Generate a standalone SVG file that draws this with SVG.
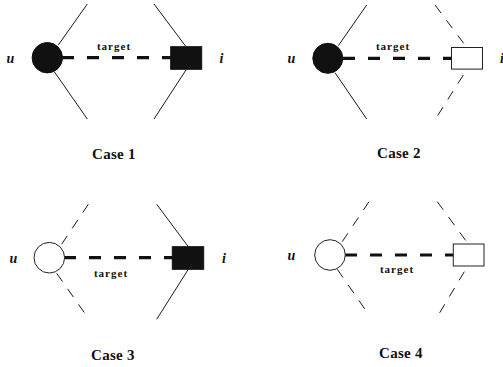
<svg xmlns="http://www.w3.org/2000/svg" width="503" height="367" viewBox="0 0 503 367">
  <style>
    .bg { fill: #ffffff; }
    .solid { stroke: #1a1a1a; stroke-width: 1; fill: none; }
    .thin-dash { stroke: #1a1a1a; stroke-width: 1; fill: none; stroke-dasharray: 10 9; }
    .target { stroke: #111111; stroke-width: 3.2; fill: none; stroke-dasharray: 12 13; }
    .full { fill: #111111; stroke: #111111; stroke-width: 1; }
    .empty { fill: #ffffff; stroke: #222222; stroke-width: 1; }
    .lbl { font-family: "Liberation Serif", "Times New Roman", serif; font-weight: bold; fill: #111111; }
    .var { font-size: 14px; font-style: italic; }
    .edge { font-size: 11px; letter-spacing: 1px; text-anchor: middle; }
    .cap { font-size: 15px; letter-spacing: 0.3px; text-anchor: middle; }
  </style>
  <rect class="bg" x="0" y="0" width="503" height="367"/>

  <g id="connectors">
    <!-- case 1 -->
    <line class="solid" x1="87.3" y1="4" x2="58.3" y2="45"/>
    <line class="solid" x1="54.3" y1="71.7" x2="87.3" y2="119"/>
    <line class="solid" x1="154" y1="4" x2="186" y2="46.7"/>
    <line class="solid" x1="186" y1="70" x2="154" y2="119"/>
    <line class="target" x1="62" y1="57.7" x2="171" y2="57.7"/>
    <!-- case 2 -->
    <line class="solid" x1="366.7" y1="5" x2="338.3" y2="45.7"/>
    <line class="solid" x1="335" y1="72.7" x2="366.7" y2="119"/>
    <line class="thin-dash" x1="435" y1="5" x2="467" y2="47.7"/>
    <line class="thin-dash" x1="463.3" y1="75" x2="435.5" y2="119"/>
    <line class="target" x1="343" y1="58.3" x2="452" y2="58.3"/>
    <!-- case 3 -->
    <line class="thin-dash" x1="88.3" y1="204.3" x2="60" y2="246.7"/>
    <line class="thin-dash" x1="56.7" y1="273.3" x2="86" y2="315"/>
    <line class="solid" x1="156.7" y1="204.3" x2="188.3" y2="246.7"/>
    <line class="solid" x1="188.3" y1="269.3" x2="156.7" y2="319.3"/>
    <line class="target" x1="64" y1="257.7" x2="173" y2="257.7"/>
    <!-- case 4 -->
    <line class="thin-dash" x1="369" y1="201.7" x2="340.7" y2="244"/>
    <line class="thin-dash" x1="337.3" y1="269.3" x2="366.7" y2="311.7"/>
    <line class="thin-dash" x1="437.3" y1="201.7" x2="468.3" y2="244"/>
    <line class="thin-dash" x1="464.3" y1="271.7" x2="437.3" y2="316.7"/>
    <line class="target" x1="345" y1="255" x2="454" y2="255"/>
  </g>

  <!-- case 1 -->
  <g id="case1-user">
    <circle class="full" cx="47.3" cy="57.7" r="15.2"/>
    <text class="lbl var" x="6.5" y="62.7">u</text>
  </g>
  <g id="case1-item">
    <rect class="full" x="170.7" y="46.7" width="31" height="22.6"/>
    <text class="lbl var" x="219.5" y="63">i</text>
  </g>
  <g id="case1-labels">
    <text class="lbl edge" x="114" y="49.5">target</text>
    <text class="lbl cap" x="114" y="158.5">Case 1</text>
  </g>

  <!-- case 2 -->
  <g id="case2-user">
    <circle class="full" cx="327.8" cy="58.3" r="15"/>
    <text class="lbl var" x="287.5" y="63.3">u</text>
  </g>
  <g id="case2-item">
    <rect class="empty" x="451.5" y="47.5" width="31" height="21.6"/>
    <text class="lbl var" x="500" y="63.3">i</text>
  </g>
  <g id="case2-labels">
    <text class="lbl edge" x="393" y="50">target</text>
    <text class="lbl cap" x="399" y="158">Case 2</text>
  </g>

  <!-- case 3 -->
  <g id="case3-user">
    <circle class="empty" cx="49.3" cy="257.7" r="15.3"/>
    <text class="lbl var" x="9.5" y="262.5">u</text>
  </g>
  <g id="case3-item">
    <rect class="full" x="172.3" y="246.7" width="31.4" height="22.6"/>
    <text class="lbl var" x="222" y="262.7">i</text>
  </g>
  <g id="case3-labels">
    <text class="lbl edge" x="111" y="276.7">target</text>
    <text class="lbl cap" x="113" y="360">Case 3</text>
  </g>

  <!-- case 4 -->
  <g id="case4-user">
    <circle class="empty" cx="330" cy="255" r="15.3"/>
    <text class="lbl var" x="287.5" y="260">u</text>
  </g>
  <g id="case4-item">
    <rect class="empty" x="453.3" y="244" width="30.7" height="22"/>
  </g>
  <g id="case4-labels">
    <text class="lbl edge" x="397" y="273.3">target</text>
    <text class="lbl cap" x="401" y="357.5">Case 4</text>
  </g>
</svg>
